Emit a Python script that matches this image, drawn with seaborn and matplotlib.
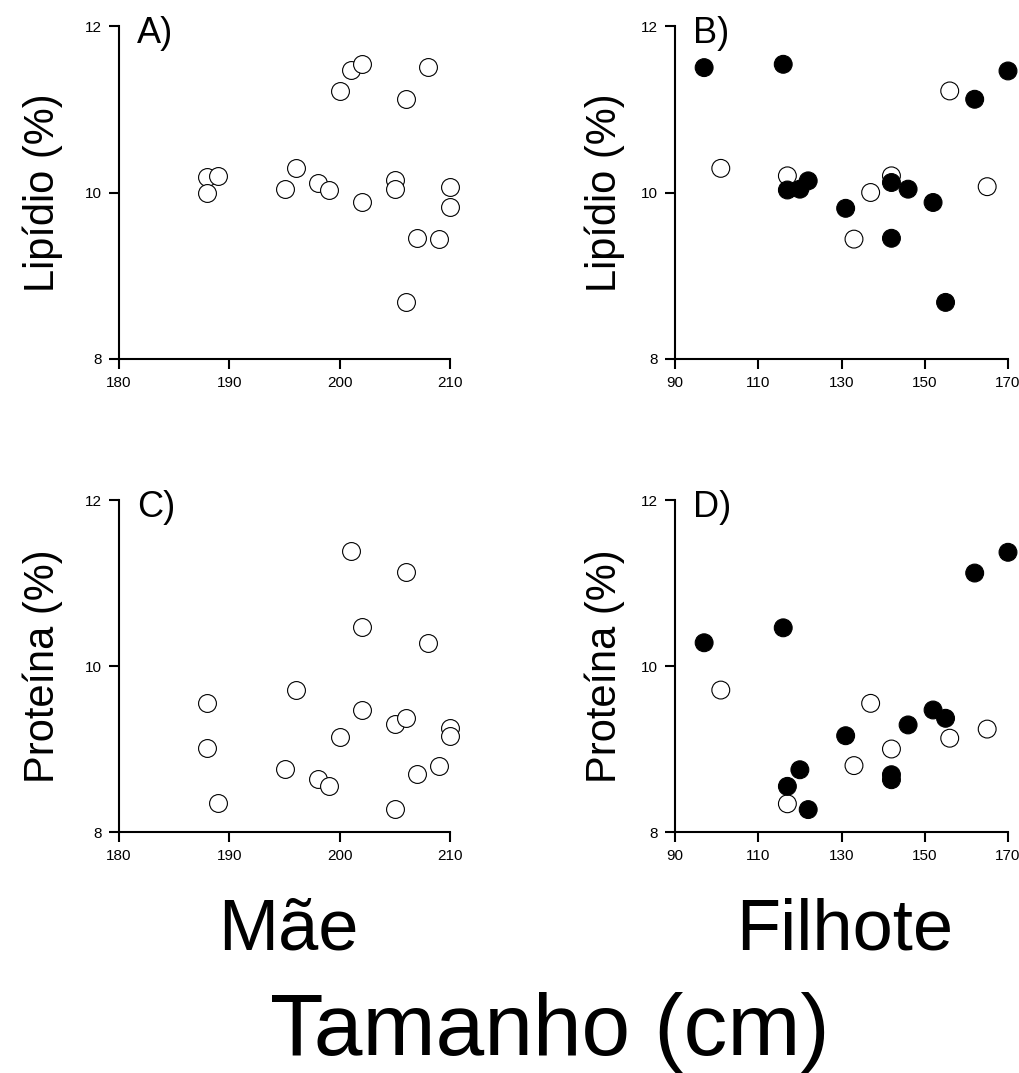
import matplotlib
matplotlib.use('Agg')
import matplotlib.pyplot as plt
import pandas as pd
import seaborn as sns

# Mother size (cm) and composition
mae_x = [188, 188, 189, 195, 196, 198, 199, 200, 201, 202,
         202, 205, 205, 206, 206, 207, 208, 209, 210, 210]
mae_lip = [10.19, 9.99, 10.20, 10.04, 10.29, 10.11, 10.03, 11.22, 11.47, 11.54,
           9.88, 10.15, 10.04, 11.12, 8.68, 9.45, 11.51, 9.44, 10.07, 9.82]
mae_prot = [9.56, 9.01, 8.35, 8.76, 9.71, 8.64, 8.56, 9.14, 11.39, 10.47,
            9.47, 9.30, 8.28, 11.13, 9.37, 8.70, 10.28, 8.80, 9.25, 9.16]

# Pup size (cm) and composition; open circles first, then filled
filhote_x = [101, 117, 133, 137, 142, 156, 165,
             97, 116, 117, 120, 122, 131, 142, 142, 146, 152, 155, 162, 170]
filhote_lip = [10.29, 10.20, 9.44, 10.00, 10.20, 11.22, 10.07,
               11.50, 11.54, 10.03, 10.04, 10.14, 9.81, 10.12, 9.45, 10.04, 9.88, 8.68, 11.12, 11.46]
filhote_prot = [9.71, 8.34, 8.80, 9.55, 9.00, 9.13, 9.24,
                10.28, 10.46, 8.55, 8.75, 8.27, 9.16, 8.69, 8.63, 9.29, 9.47, 9.37, 11.12, 11.37]
filhote_grupo = ['aberto'] * 7 + ['cheio'] * 13

sns.set_style('ticks')
plt.rcParams['font.family'] = ['Liberation Sans', 'DejaVu Sans']
for k in ['text.color', 'axes.labelcolor', 'xtick.color', 'ytick.color', 'axes.edgecolor']:
  plt.rcParams[k] = 'black'

df_mae = pd.DataFrame({'x': mae_x, 'lip': mae_lip, 'prot': mae_prot})
df_fil = pd.DataFrame({'x': filhote_x, 'lip': filhote_lip, 'prot': filhote_prot,
                       'grupo': filhote_grupo})

fig = plt.figure(figsize=(10.19, 10.73), dpi=100)
W, H = 1019, 1073


def make_ax(left, top, right, bottom):
  return fig.add_axes([left / W, 1 - bottom / H, (right - left) / W, (bottom - top) / H])


axA = make_ax(119, 26, 450, 359)
axB = make_ax(675, 26, 1008, 359)
axC = make_ax(119, 500, 450, 832)
axD = make_ax(675, 500, 1008, 832)

pal = {'aberto': 'white', 'cheio': 'black'}
msize = 165

sns.scatterplot(data=df_mae, x='x', y='lip', ax=axA, color='white', edgecolor='black',
                linewidth=0.8, s=msize, clip_on=False, zorder=3)
sns.scatterplot(data=df_mae, x='x', y='prot', ax=axC, color='white', edgecolor='black',
                linewidth=0.8, s=msize, clip_on=False, zorder=3)
sns.scatterplot(data=df_fil, x='x', y='lip', hue='grupo', palette=pal, ax=axB,
                edgecolor='black', linewidth=0.8, s=msize, clip_on=False, legend=False, zorder=3)
sns.scatterplot(data=df_fil, x='x', y='prot', hue='grupo', palette=pal, ax=axD,
                edgecolor='black', linewidth=0.8, s=msize, clip_on=False, legend=False, zorder=3)

panels = [(axA, 'A)', 'Lipídio (%)', [180, 190, 200, 210], -0.17),
          (axB, 'B)', 'Lipídio (%)', [90, 110, 130, 150, 170], -0.15),
          (axC, 'C)', 'Proteína (%)', [180, 190, 200, 210], -0.17),
          (axD, 'D)', 'Proteína (%)', [90, 110, 130, 150, 170], -0.15)]

for ax, letra, ylab, xt, lx in panels:
  ax.set_xlim(xt[0], xt[-1])
  ax.set_ylim(8, 12)
  ax.set_xticks(xt)
  ax.set_yticks([8, 10, 12])
  ax.set_xlabel('')
  ax.set_ylabel(ylab, fontsize=30)
  ax.yaxis.set_label_coords(lx, 0.5)
  sns.despine(ax=ax)
  for sp in ['left', 'bottom']:
    ax.spines[sp].set_linewidth(1.5)
  ax.tick_params(axis='both', length=7, width=1.5, labelsize=11, direction='out')
  ax.tick_params(axis='x', pad=5)
  ax.tick_params(axis='y', pad=5)
  ax.text(0.054, 0.949, letra, transform=ax.transAxes, fontsize=26, va='baseline', ha='left')

fig.text(288 / W, 1 - 950 / H, 'Mãe', fontsize=52, ha='center', va='baseline')
fig.text(845 / W, 1 - 950 / H, 'Filhote', fontsize=52, ha='center', va='baseline')
fig.text(550 / W, 1 - 1055 / H, 'Tamanho (cm)', fontsize=63, ha='center', va='baseline')

fig.savefig('out.png', dpi=100)
